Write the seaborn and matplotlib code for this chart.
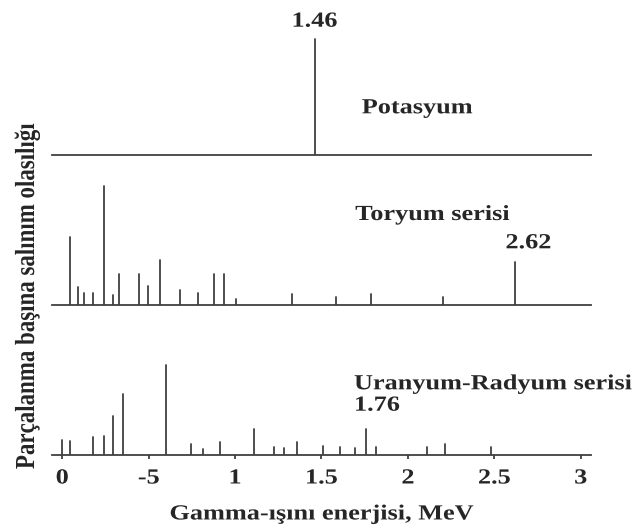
import numpy as np
import pandas as pd
import matplotlib
matplotlib.use("Agg")
import matplotlib.pyplot as plt
from matplotlib.patheffects import AbstractPathEffect
from matplotlib.transforms import Affine2D
import seaborn as sns

# Gamma-ray line energies (MeV) and relative emission heights per decay
k_energy = [1.46]
k_height = [116]

th_energy = [0.047, 0.089, 0.128, 0.18, 0.24, 0.295, 0.33, 0.442, 0.498, 0.564,
             0.683, 0.784, 0.878, 0.934, 1.006, 1.332, 1.582, 1.786, 2.205, 2.62]
th_height = [67.7, 18.3, 12.3, 12.3, 119.3, 9.7, 31.3, 31.3, 19.3, 45,
             14.7, 12.3, 31.3, 31.3, 6.3, 10.7, 8.3, 10.7, 8.3, 43.3]

u_energy = [0.0, 0.047, 0.18, 0.24, 0.295, 0.351, 0.599, 0.746, 0.814, 0.915,
            1.109, 1.224, 1.285, 1.36, 1.507, 1.61, 1.692, 1.76, 1.814, 2.111,
            2.212, 2.481]
u_height = [15.3, 14.3, 18, 19.3, 39.3, 61.3, 90.3, 11.7, 6, 13,
            26.3, 8.3, 7, 13, 9.7, 8.7, 7, 26.3, 8.3, 8.3,
            11.7, 8.3]

series_names = ["Potasyum", "Toryum serisi", "Uranyum-Radyum serisi"]
tick_values = [0, 0.5, 1, 1.5, 2, 2.5, 3]
tick_labels = ["0", "-5", "1", "1.5", "2", "2.5", "3"]
x_label = "Gamma-ışını enerjisi, MeV"
y_label = "Parçalanma başına salınım olasılığı"

sns.set_theme(style="white")
plt.rcParams["font.family"] = ["Liberation Serif", "DejaVu Serif"]
plt.rcParams["font.weight"] = "bold"


class WideText(AbstractPathEffect):
    """Widen glyph outlines along the text direction (and optionally across it)."""

    def __init__(self, sx=1.22, sy=1.0, anchor="left"):
        super().__init__()
        self.sx, self.sy, self.anchor = sx, sy, anchor

    def draw_path(self, renderer, gc, tpath, affine, rgbFace=None):
        cx = 0.0
        if self.anchor == "center":
            ext = tpath.get_extents()
            cx = 0.5 * (ext.x0 + ext.x1)
        pre = Affine2D().translate(-cx, 0).scale(self.sx, self.sy).translate(cx, 0)
        renderer.draw_path(gc, tpath, pre + affine, rgbFace)


WIDE_L = [WideText(anchor="left")]
WIDE_C = [WideText(anchor="center")]

LINE = "#404040"
FS = 15.5
W, H = 634, 529
fig = plt.figure(figsize=(W / 100, H / 100), dpi=100)


def stick_frame(energy, height):
    rows = []
    for i, (e, h) in enumerate(zip(energy, height)):
        rows.append({"E": e, "I": 0.0, "line": i})
        rows.append({"E": e, "I": h, "line": i})
    return pd.DataFrame(rows)


left = 51.7 / W
width = (591 - 51.7) / W
panel_h = 150 / H
baselines_px = [155.3, 305.0, 455.3]
datasets = [(k_energy, k_height), (th_energy, th_height), (u_energy, u_height)]

axes = []
for (en, hi), base in zip(datasets, baselines_px):
    ax = fig.add_axes([left, (H - base) / H, width, panel_h])
    df = stick_frame(en, hi)
    sns.lineplot(data=df, x="E", y="I", units="line", estimator=None,
                 color=LINE, lw=1.3, ax=ax, legend=False)
    ax.set_xlim(-0.0613, 3.0597)
    ax.set_ylim(0, 150)
    for s in ["top", "right", "left"]:
        ax.spines[s].set_visible(False)
    ax.spines["bottom"].set_color(LINE)
    ax.spines["bottom"].set_linewidth(1.3)
    ax.set_yticks([])
    ax.set_xlabel("")
    ax.set_ylabel("")
    ax.patch.set_alpha(0)
    axes.append(ax)

ax_k, ax_th, ax_u = axes
for ax in (ax_k, ax_th):
    ax.set_xticks([])

ax_u.set_xticks(tick_values)
ax_u.set_xticklabels(tick_labels, fontsize=FS, fontweight="bold")
for lab in ax_u.get_xticklabels():
    lab.set_path_effects(WIDE_C)
ax_u.tick_params(axis="x", direction="out", length=3, width=1.3, color=LINE, pad=6.5,
                 bottom=True)
ax_u.set_xlabel(x_label, fontsize=FS, fontweight="bold", labelpad=11.5)
ax_u.xaxis.label.set_path_effects(WIDE_C)

txt = dict(fontsize=FS, fontweight="bold", va="baseline", clip_on=False)

# Potassium panel
ax_k.text(k_energy[0], k_height[0] + 12.6, f"{k_energy[0]:.2f}", ha="center",
          path_effects=WIDE_C, **txt)
ax_k.text(1.733, 42, series_names[0], ha="left", path_effects=WIDE_L, **txt)

# Thorium panel
ax_th.text(1.695, 85, series_names[1], ha="left", path_effects=WIDE_L, **txt)
ax_th.text(th_energy[-1] + 0.077, 56.7, f"{th_energy[-1]:.2f}", ha="center",
           path_effects=WIDE_C, **txt)

# Uranium-radium panel
ax_u.text(1.688, 66, series_names[2], ha="left", path_effects=WIDE_L, **txt)
ax_u.text(1.688, 44.6, f"{u_energy[17]:.2f}", ha="left", path_effects=WIDE_L, **txt)

fig.text(28.5 / W, 1 - 296 / H, y_label, rotation=90, ha="center", va="center",
         fontsize=16.5, fontweight="bold",
         path_effects=[WideText(sx=1.0, sy=1.2, anchor="center")])

fig.savefig("out.png", dpi=100)
